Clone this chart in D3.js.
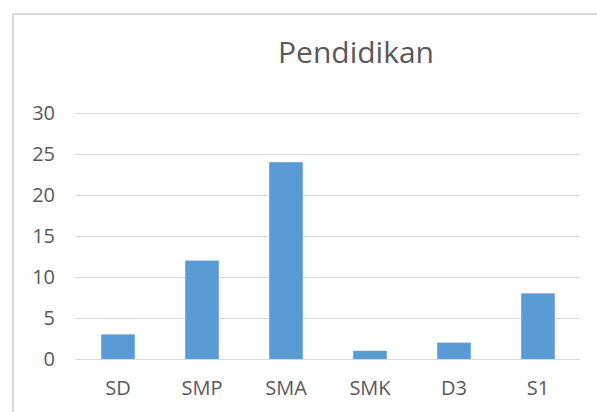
<!DOCTYPE html>
<html>
<head>
<meta charset="utf-8">
<script src="https://cdn.jsdelivr.net/npm/d3@7"></script>
<style>
  body { margin: 0; background: #fff; }
  text { font-family: "Open Sans", sans-serif; fill: #595959; }
</style>
</head>
<body>
<div id="chart"></div>
<script>
// Data
const categories = ["SD", "SMP", "SMA", "SMK", "D3", "S1"];
const values = [3, 12, 24, 1, 2, 8];
const yTicks = [0, 5, 10, 15, 20, 25, 30];

const width = 597;
const height = 412;
const margin = { top: 113, right: 17, bottom: 53, left: 76 };

const svg = d3.select("#chart")
    .append("svg")
    .attr("width", width)
    .attr("height", height);

// Chart border
svg.append("rect")
    .attr("x", 13)
    .attr("y", 14)
    .attr("width", 620)
    .attr("height", 420)
    .attr("fill", "none")
    .attr("stroke", "#d9d9d9")
    .attr("stroke-width", 2);

const xScale = d3.scaleBand()
    .domain(categories)
    .range([margin.left, width - margin.right])
    .paddingInner(0.6)
    .paddingOuter(0.3);

const yScale = d3.scaleLinear()
    .domain([0, 30])
    .range([height - margin.bottom, margin.top]);

// Gridlines + y labels
const yAxis = d3.axisLeft(yScale)
    .tickValues(yTicks)
    .tickSize(-(width - margin.right - margin.left + 1))
    .tickPadding(20);
svg.append("g")
    .attr("class", "y-axis")
    .attr("transform", `translate(${margin.left - 1},0)`)
    .call(yAxis)
    .call(g => g.select(".domain").remove())
    .call(g => g.selectAll("line").attr("stroke", "#d9d9d9"))
    .call(g => g.selectAll("text").attr("font-size", 20).style("fill", "#595959"));

// Bars
svg.selectAll(".bar")
    .data(values)
    .enter().append("rect")
    .attr("class", "bar")
    .attr("x", (d, i) => xScale(categories[i]))
    .attr("y", d => yScale(d))
    .attr("width", xScale.bandwidth())
    .attr("height", d => yScale(0) - yScale(d))
    .attr("fill", "#5b9bd5");

// X axis labels
const xAxis = d3.axisBottom(xScale).tickSize(0).tickPadding(22);
svg.append("g")
    .attr("class", "x-axis")
    .attr("transform", `translate(0,${height - margin.bottom})`)
    .call(xAxis)
    .call(g => g.select(".domain").remove())
    .call(g => g.selectAll("text").attr("font-size", 20).style("fill", "#595959"));

// Title
svg.append("text")
    .attr("x", 356)
    .attr("y", 63)
    .attr("font-size", 30)
    .style("text-anchor", "middle")
    .text("Pendidikan");
</script>
</body>
</html>
